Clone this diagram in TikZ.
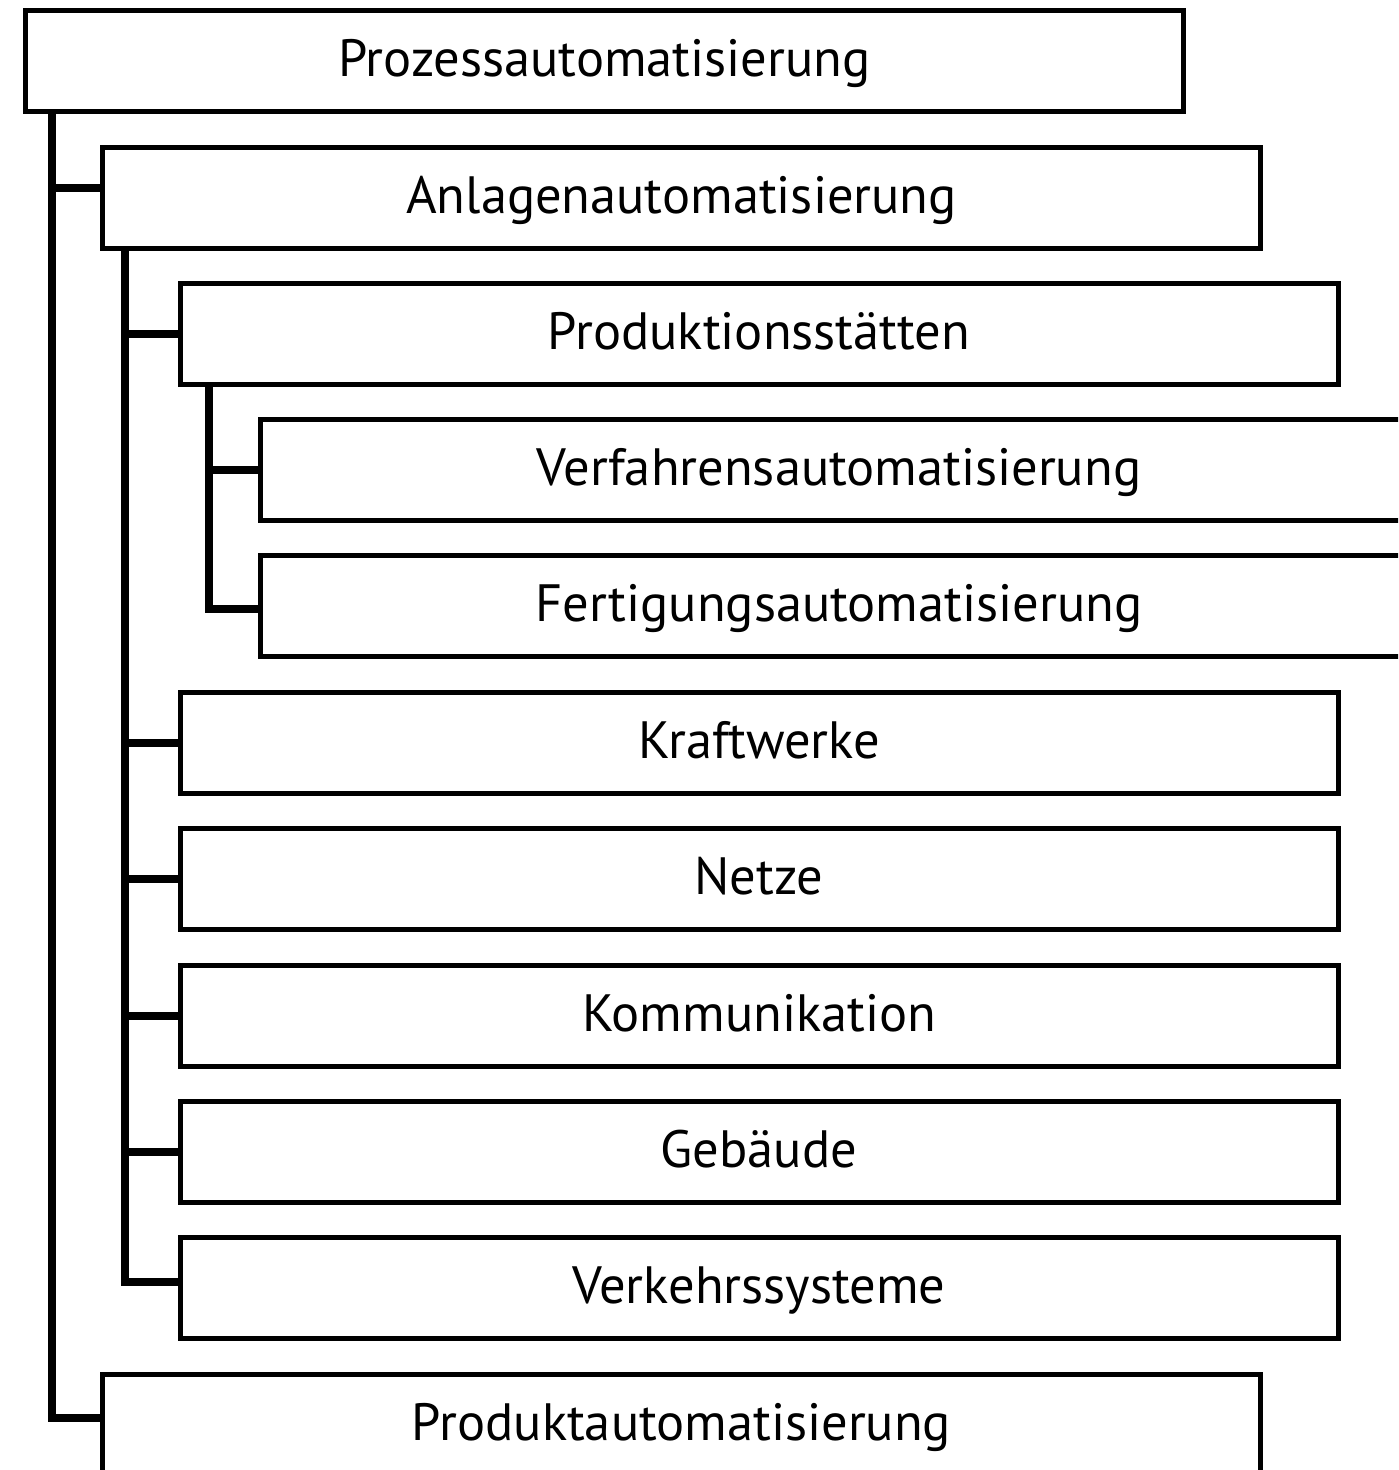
\documentclass[tikz,border=0pt]{standalone}
\usepackage{fontspec}
\setmainfont{PT Sans}
\begin{document}
\begin{tikzpicture}[x=1pt,y=-1pt,
  box/.style={draw, line width=5pt, rectangle, fill=white,
    minimum width=1158pt, minimum height=101pt, inner sep=0pt,
    text height=46pt, text depth=15pt,
    font=\fontsize{52.5}{63}\selectfont},
  trunk/.style={draw, line width=8pt, line join=miter}]
\useasboundingbox (0,0) rectangle (1398,1470);
\clip (0,0) rectangle (1398,1470);

% boxes, one level per 78pt of indent, one row per 136.35pt
\node[box] (proz)    at (604.5, 61.0)   {Prozessautomatisierung};
\node[box] (anlage)  at (681.5, 197.9)  {Anlagenautomatisierung};
\node[box] (prod)    at (759.0, 333.7)  {Produktionsstätten};
\node[box] (verf)    at (839.0, 470.1)  {Verfahrensautomatisierung};
\node[box] (fert)    at (839.0, 606.4)  {Fertigungsautomatisierung};
\node[box] (kraft)   at (759.0, 742.8)  {Kraftwerke};
\node[box] (netze)   at (759.0, 879.1)  {Netze};
\node[box] (komm)    at (759.0, 1015.5) {Kommunikation};
\node[box] (geb)     at (759.0, 1151.8) {Gebäude};
\node[box] (verkehr) at (759.0, 1288.2) {Verkehrssysteme};
\node[box] (produkt) at (681.5, 1424.5) {Produktautomatisierung};

% trunk lines below each parent box
\coordinate (t1) at ([xshift=29pt]proz.south west);
\coordinate (t2) at ([xshift=24.5pt]anlage.south west);
\coordinate (t3) at ([xshift=31.5pt]prod.south west);

\draw[trunk] (t1) |- ([yshift=6.5pt]produkt.west);
\draw[trunk] ([yshift=10pt]anlage.west) -- ([yshift=10pt]anlage.west -| t1);

\draw[trunk] (t2) |- ([yshift=6pt]verkehr.west);
\foreach \n in {prod,kraft,netze,komm,geb}
  \draw[trunk] (\n.west) -- (\n.west -| t2);

\draw[trunk] (t3) |- ([yshift=-2.6pt]fert.west);
\draw[trunk] (verf.west) -- (verf.west -| t3);
\end{tikzpicture}
\end{document}
